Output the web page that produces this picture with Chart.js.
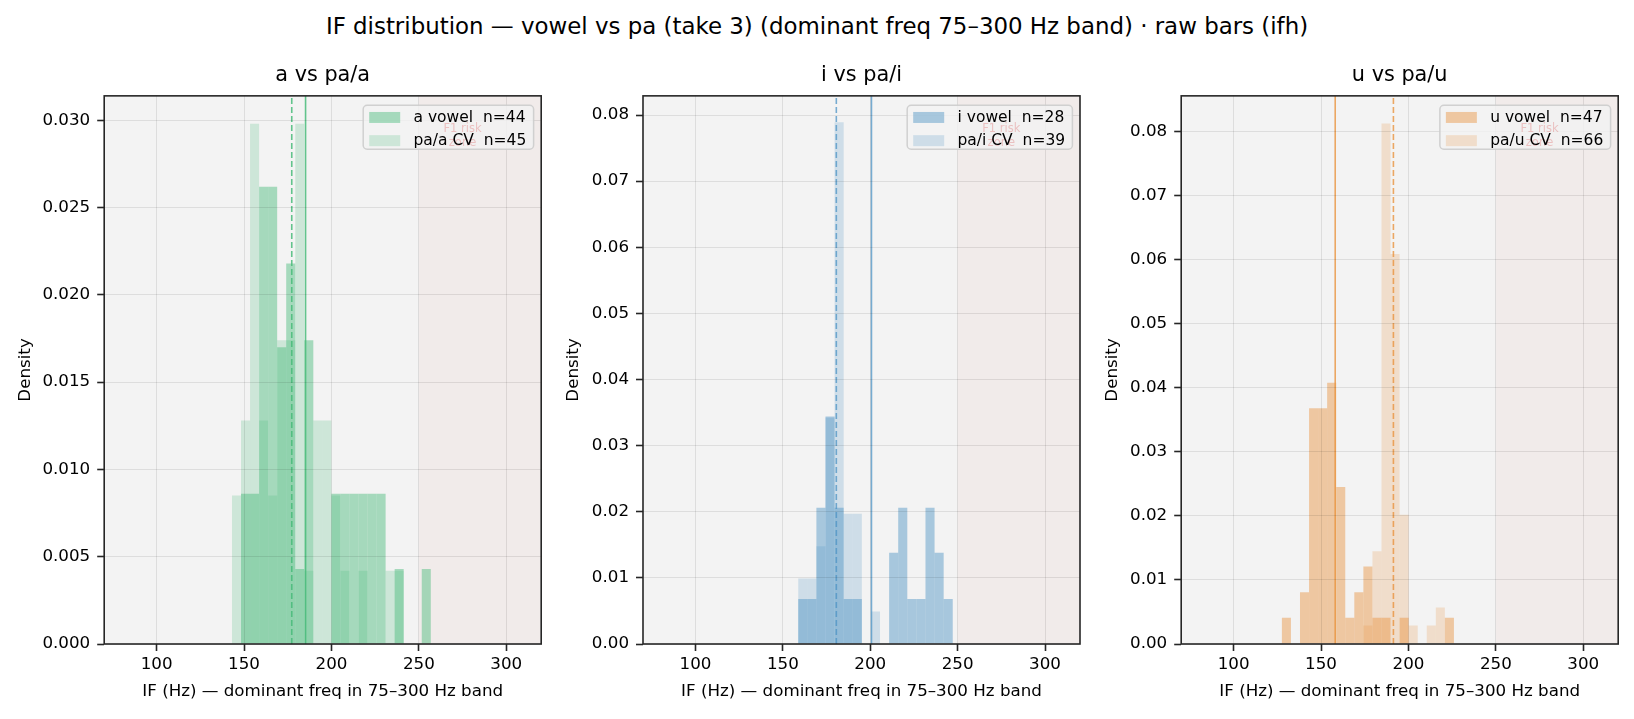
<!DOCTYPE html>
<html>
<head>
<meta charset="utf-8">
<title>IF distribution</title>
<script src="https://cdn.jsdelivr.net/npm/chart.js@4.4.1/dist/chart.umd.min.js"></script>
<style>
html, body { margin: 0; padding: 0; background: #ffffff; }
#fig { position: relative; width: 1634px; height: 719px; overflow: hidden; font-family: 'DejaVu Sans', sans-serif; }
#suptitle { position: absolute; left: 0; top: 12px; width: 1634px; text-align: center; font-size: 22.9px; line-height: 28px; color: #000; white-space: pre; }
.panel { position: absolute; top: 0; }
</style>
</head>
<body>
<div id="fig">
  <div id="suptitle">IF distribution — vowel vs pa (take 3) (dominant freq 75–300 Hz band) · raw bars (ifh)</div>
  <canvas id="panelA" class="panel" width="555" height="719" style="left:0px"></canvas>
  <canvas id="panelI" class="panel" width="555" height="719" style="left:539px"></canvas>
  <canvas id="panelU" class="panel" width="557" height="719" style="left:1077px"></canvas>
</div>
<script>
Chart.defaults.font.family = "'DejaVu Sans', sans-serif";
Chart.defaults.color = '#000';

const xTicks = [100, 150, 200, 250, 300];
const xMin = 70;
const xMax = 320;
const riskZoneFrom = 250;
const riskLabelAt = 275;
const xLabel = 'IF (Hz) — dominant freq in 75–300 Hz band';

// a vs pa/a  (density per bin)
const aBinStart = 143.1;
const aBinWidth = 5.17;
const aVowel = [0, 0.0086, 0.0086, 0.0262, 0.0262, 0.0170, 0.0218, 0.0043, 0.0174, 0, 0, 0.0086, 0.0086, 0.0086, 0.0086, 0.0086, 0.0086, 0, 0.0043, 0, 0, 0.0043];
const paA = [0.0085, 0.0128, 0.0298, 0.0128, 0.0085, 0.0174, 0.0174, 0.0298, 0.0042, 0.0128, 0.0128, 0.0085, 0.0042, 0, 0.0042, 0, 0, 0.0042, 0.0042, 0, 0, 0];
const aMeans = [185.2, 177.3];
const aYTicks = [0, 0.005, 0.010, 0.015, 0.020, 0.025, 0.030];
const aYMax = 0.0314;

// i vs pa/i
const iBinStart = 158.8;
const iBinWidth = 5.2;
const iVowel = [0.0068, 0.0068, 0.0206, 0.0343, 0.0206, 0.0068, 0.0068, 0, 0, 0, 0.0138, 0.0206, 0.0068, 0.0068, 0.0206, 0.0138, 0.0068];
const paI = [0.0099, 0.0099, 0.0148, 0.0345, 0.0789, 0.0197, 0.0197, 0, 0.0049, 0, 0, 0, 0, 0, 0, 0, 0];
const iMeans = [200.7, 180.6];
const iYTicks = [0, 0.01, 0.02, 0.03, 0.04, 0.05, 0.06, 0.07, 0.08];
const iYMax = 0.0829;

// u vs pa/u
const uBinStart = 127.6;
const uBinWidth = 5.18;
const uVowel = [0.0041, 0, 0.0081, 0.0368, 0.0368, 0.0408, 0.0245, 0.0041, 0.0081, 0.0121, 0.0041, 0.0041, 0, 0.0041, 0, 0, 0, 0, 0.0041];
const paU = [0, 0, 0, 0, 0, 0, 0, 0, 0, 0.0029, 0.0145, 0.0813, 0.0609, 0.0202, 0.0029, 0, 0.0029, 0.0057, 0];
const uMeans = [158.1, 191.4];
const uYTicks = [0, 0.01, 0.02, 0.03, 0.04, 0.05, 0.06, 0.07, 0.08];
const uYMax = 0.0856;

const gridColor = 'rgba(0, 0, 0, 0.09)';
const spineColor = '#262626';

const toBars = (start, width, values) => values.map((v, i) => ({ x: start + width * (i + 0.5), y: v }));

// axes background, F1 zone, frame and a matplotlib-like legend box
const panelDecor = {
    id: 'panelDecor',
    beforeDraw(chart, args, o) {
        const { ctx, chartArea: a } = chart;
        ctx.save();
        ctx.fillStyle = '#f3f3f3';
        ctx.fillRect(a.left, a.top, a.width, a.height);
        ctx.restore();
    },
    beforeDatasetsDraw(chart, args, o) {
        const { ctx, chartArea: a, scales: { x } } = chart;
        const x0 = x.getPixelForValue(o.zoneFrom);
        ctx.save();
        ctx.fillStyle = 'rgba(214, 110, 90, 0.055)';
        ctx.fillRect(x0, a.top, a.right - x0, a.height);
        ctx.restore();
    },
    afterDraw(chart, args, o) {
        const { ctx, chartArea: a, scales: { x } } = chart;
        ctx.save();
        ctx.strokeStyle = spineColor;
        ctx.lineWidth = 1.6;
        ctx.strokeRect(a.left, a.top, a.width, a.height);

        const entries = chart.data.datasets.filter(d => d.type !== 'line');
        ctx.font = o.fontSize + "px 'DejaVu Sans'";
        const textW = Math.max(...entries.map(d => ctx.measureText(d.label).width));
        const w = 6 + 31 + 13.3 + textW + 7.3;
        const right = a.right - 7.6;
        const left = right - w;
        const top = a.top + 9.4;
        const h = 44;

        ctx.beginPath();
        ctx.roundRect(left, top, w, h, 4);
        ctx.fillStyle = 'rgba(243, 243, 243, 0.8)';
        ctx.fill();
        ctx.strokeStyle = 'rgba(204, 204, 204, 0.9)';
        ctx.lineWidth = 1.5;
        ctx.stroke();

        // faint zone label, partly under the legend
        ctx.font = "11.5px 'DejaVu Sans'";
        ctx.fillStyle = 'rgba(220, 80, 80, 0.3)';
        ctx.textAlign = 'center';
        ctx.textBaseline = 'middle';
        const zx = x.getPixelForValue(o.labelAt);
        ctx.fillText('F1 risk', zx, a.top + 33.4);
        ctx.fillText('zone', zx, a.top + 46.8);

        ctx.font = o.fontSize + "px 'DejaVu Sans'";
        ctx.textAlign = 'left';
        entries.forEach((d, i) => {
            const cy = top + 12.2 + i * 23.2;
            ctx.fillStyle = d.backgroundColor;
            ctx.fillRect(left + 6, cy - 5.5, 31, 11);
            ctx.fillStyle = '#000';
            ctx.fillText(d.label, left + 6 + 31 + 13.3, cy + 0.5);
        });
        ctx.restore();
    }
};

function drawPanel(canvasId, p) {
    const ctx = document.getElementById(canvasId).getContext('2d');
    return new Chart(ctx, {
        type: 'bar',
        data: {
            datasets: [
                {
                    type: 'line',
                    data: [{ x: p.means[0], y: 0 }, { x: p.means[0], y: p.yMax }],
                    borderColor: p.lineColor,
                    borderWidth: 1.6,
                    pointRadius: 0,
                    fill: false
                },
                {
                    type: 'line',
                    data: [{ x: p.means[1], y: 0 }, { x: p.means[1], y: p.yMax }],
                    borderColor: p.lineColor,
                    borderWidth: 1.6,
                    borderDash: [6, 3],
                    pointRadius: 0,
                    fill: false
                },
                {
                    label: p.labels[0],
                    data: toBars(p.start, p.width, p.vowel),
                    backgroundColor: p.vowelColor
                },
                {
                    label: p.labels[1],
                    data: toBars(p.start, p.width, p.pa),
                    backgroundColor: p.paColor
                }
            ]
        },
        options: {
            responsive: false,
            devicePixelRatio: 1,
            animation: false,
            events: [],
            layout: { padding: { left: 0, right: p.padRight, top: 0, bottom: 0 } },
            datasets: {
                bar: {
                    grouped: false,
                    barPercentage: 1,
                    categoryPercentage: 1,
                    borderWidth: 0,
                    inflateAmount: 0
                }
            },
            scales: {
                x: {
                    type: 'linear',
                    min: xMin,
                    max: xMax,
                    offset: false,
                    afterBuildTicks: s => { s.ticks = xTicks.map(v => ({ value: v })); },
                    afterFit: s => { s.height = 75; },
                    ticks: { font: { size: 16.7 }, padding: 4, maxRotation: 0, callback: v => String(v) },
                    grid: { offset: false, color: gridColor, z: 1, tickColor: spineColor, tickLength: 7, tickWidth: 1.6 },
                    border: { display: false },
                    title: { display: true, text: xLabel, font: { size: 16.7 }, padding: { top: 0, bottom: 17 } }
                },
                y: {
                    type: 'linear',
                    min: 0,
                    max: p.yMax,
                    afterBuildTicks: s => { s.ticks = p.yTicks.map(v => ({ value: v })); },
                    afterFit: s => { s.width = p.yW; },
                    ticks: { font: { size: 16.7 }, padding: 7, callback: v => v.toFixed(p.decimals) },
                    grid: { color: gridColor, z: 1, tickColor: spineColor, tickLength: 7, tickWidth: 1.6 },
                    border: { display: false },
                    title: { display: true, text: 'Density', font: { size: 16.7 }, padding: { top: p.yTitlePad, bottom: 0 } }
                }
            },
            plugins: {
                legend: { display: false },
                tooltip: { enabled: false },
                title: {
                    display: true,
                    text: p.title,
                    fullSize: false,
                    font: { size: 20.8, weight: 'normal' },
                    color: '#000',
                    padding: { top: 63.5, bottom: 7.4 }
                },
                panelDecor: { zoneFrom: riskZoneFrom, labelAt: riskLabelAt, fontSize: 15.5 }
            }
        },
        plugins: [panelDecor]
    });
}

drawPanel('panelA', {
    title: 'a vs pa/a',
    labels: ['a vowel  n=44', 'pa/a CV  n=45'],
    start: aBinStart, width: aBinWidth, vowel: aVowel, pa: paA, means: aMeans,
    yTicks: aYTicks, yMax: aYMax, decimals: 3,
    vowelColor: 'rgba(72, 187, 121, 0.45)', paColor: 'rgba(72, 187, 121, 0.22)', lineColor: 'rgba(72, 187, 121, 0.85)',
    yW: 104.2, padRight: 13.8, yTitlePad: 16
});

drawPanel('panelI', {
    title: 'i vs pa/i',
    labels: ['i vowel  n=28', 'pa/i CV  n=39'],
    start: iBinStart, width: iBinWidth, vowel: iVowel, pa: paI, means: iMeans,
    yTicks: iYTicks, yMax: iYMax, decimals: 2,
    vowelColor: 'rgba(76, 147, 196, 0.45)', paColor: 'rgba(76, 147, 196, 0.22)', lineColor: 'rgba(76, 147, 196, 0.75)',
    yW: 104.0, padRight: 14, yTitlePad: 25
});

drawPanel('panelU', {
    title: 'u vs pa/u',
    labels: ['u vowel  n=47', 'pa/u CV  n=66'],
    start: uBinStart, width: uBinWidth, vowel: uVowel, pa: paU, means: uMeans,
    yTicks: uYTicks, yMax: uYMax, decimals: 2,
    vowelColor: 'rgba(232, 147, 63, 0.45)', paColor: 'rgba(232, 147, 63, 0.22)', lineColor: 'rgba(232, 147, 63, 0.8)',
    yW: 104.2, padRight: 15.8, yTitlePad: 26
});
</script>
</body>
</html>
